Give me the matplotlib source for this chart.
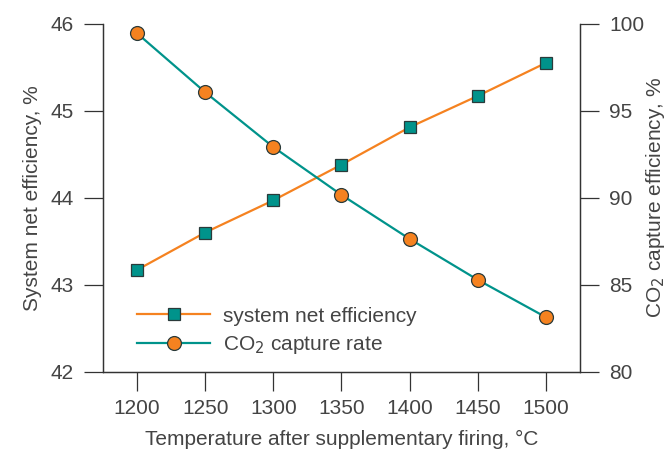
import numpy as np
import matplotlib.pyplot as plt

plt.rcParams['font.family'] = ['Liberation Sans', 'DejaVu Sans']

# temperature after supplementary firing, degC
temperature = [1200, 1250, 1300, 1350, 1400, 1450, 1500]
# system net efficiency, %
net_eff = [43.17, 43.60, 43.97, 44.38, 44.81, 45.17, 45.55]
# CO2 capture rate, %
capture = [99.45, 96.06, 92.91, 90.16, 87.63, 85.28, 83.13]

orange = '#f58220'
teal = '#00938b'
txt = '#444444'
edge = '#2a3a3a'
fs = 15

fig = plt.figure(figsize=(6.7, 4.5), dpi=100)
ax = fig.add_axes([0.1537, 0.174, 0.712, 0.7733])
ax2 = ax.twinx()

l1, = ax.plot(temperature, net_eff, '-s', color=orange, lw=1.6,
              markersize=9, markerfacecolor=teal, markeredgecolor=edge,
              markeredgewidth=0.9, label='system net efficiency')
l2, = ax2.plot(temperature, capture, '-o', color=teal, lw=1.6,
               markersize=10, markerfacecolor=orange, markeredgecolor=edge,
               markeredgewidth=0.9, label='CO$_2$ capture rate')

ax.set_xlim(1175, 1525)
ax.set_ylim(42, 46)
ax2.set_ylim(80, 100)
ax.set_xticks(temperature)
ax.set_yticks([42, 43, 44, 45, 46])
ax2.set_yticks([80, 85, 90, 95, 100])

for a in (ax, ax2):
    a.spines['top'].set_visible(False)
    for s in a.spines.values():
        s.set_color('#333333')
        s.set_linewidth(0.9)
    a.tick_params(direction='out', length=14, width=0.9, color='#333333',
                  labelsize=fs, labelcolor=txt, pad=7)
ax.tick_params(axis='x', pad=6)

ax.set_xlabel('Temperature after supplementary firing, °C', fontsize=fs,
              color=txt, labelpad=8)
ax.set_ylabel('System net efficiency, %', fontsize=fs, color=txt, labelpad=6)
ax2.set_ylabel('CO$_2$ capture efficiency, %', fontsize=fs, color=txt,
               labelpad=0)

ax.legend(handles=[l1, l2], loc='lower left', bbox_to_anchor=(0.033, -0.01),
          frameon=False, fontsize=fs, labelcolor=txt, handlelength=3.5,
          handletextpad=0.6, labelspacing=0.42)

fig.savefig('out.png', dpi=100)
